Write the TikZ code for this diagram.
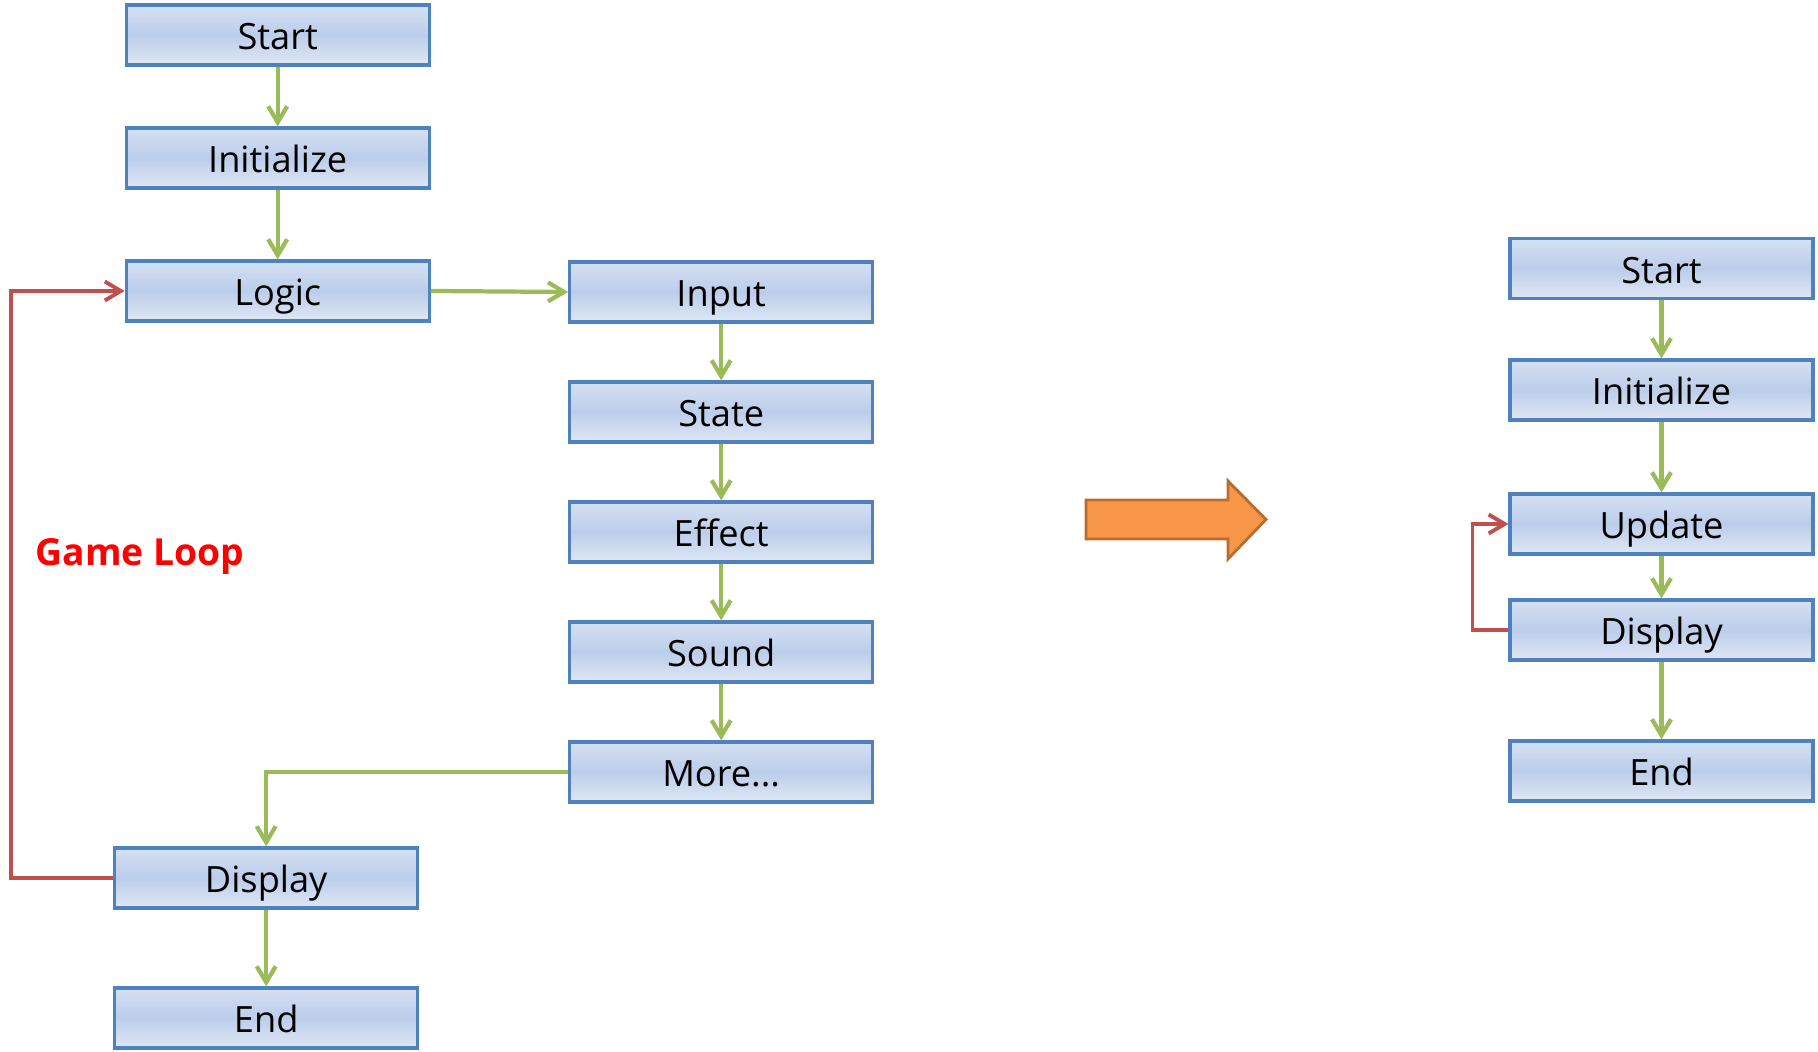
\documentclass[tikz,border=0pt]{standalone}
\usepackage{fontspec}
\setmainfont{Open Sans}
\usepackage{xcolor}
\usetikzlibrary{shapes,arrows,arrows.meta,positioning,calc}

\definecolor{boxline}{HTML}{4F81BD}
\definecolor{boxtop}{HTML}{D5E0F2}
\definecolor{boxmid}{HTML}{BCCDEA}
\definecolor{boxbot}{HTML}{DFE7F4}
\definecolor{flowgreen}{HTML}{9BBB59}
\definecolor{loopred}{HTML}{C0504D}
\definecolor{bigorange}{HTML}{F79646}
\definecolor{bigorangeline}{HTML}{B86D30}

\begin{document}
\begin{tikzpicture}[
    node distance=1.2cm,
    stage/.style={rectangle, draw=boxline, line width=0.9pt, top color=boxtop, bottom color=boxbot, middle color=boxmid, minimum width=3.03cm, minimum height=0.6cm, inner sep=0pt, text height=8.5pt, text depth=0pt, font=\fontsize{10.3}{12}\selectfont},
    flow/.style={-{Straight Barb[length=0.16cm, width=0.19cm]}, draw=flowgreen, line width=1.2pt},
    back/.style={-{Straight Barb[length=0.16cm, width=0.19cm]}, draw=loopred, line width=1.1pt},
    bigarrow/.style={fill=bigorange, draw=bigorangeline, line width=0.8pt}
]
\useasboundingbox (0,0) rectangle (18.18,-10.52);

% Game loop (left)
\node[stage] at (2.777,-0.35) (start) {Start};
\node[stage, below of=start, yshift=-0.03cm] (init) {Initialize};
\node[stage, below of=init, yshift=-0.13cm] (logic) {Logic};
\node[stage, right of=logic, xshift=3.235cm, yshift=-0.01cm] (input) {Input};
\node[stage, below of=input] (state) {State};
\node[stage, below of=state] (effect) {Effect};
\node[stage, below of=effect] (sound) {Sound};
\node[stage, below of=sound] (more) {More...};
\node[stage, below of=more, xshift=-4.55cm, yshift=0.14cm] (display) {Display};
\node[stage, below of=display, yshift=-0.20cm] (end) {End};

\node[text=red, font=\fontsize{10.6}{12}\selectfont\bfseries] at (1.40,-5.56) (looplabel) {Game Loop};

% Simplified loop (right)
\node[stage] at (16.615,-2.685) (rstart) {Start};
\node[stage, below of=rstart, yshift=-0.015cm] (rinit) {Initialize};
\node[stage, below of=rinit, yshift=-0.14cm] (rupdate) {Update};
\node[stage, below of=rupdate, yshift=0.14cm] (rdisplay) {Display};
\node[stage, below of=rdisplay, yshift=-0.21cm] (rend) {End};

% Connect left stages
\draw[flow] (start) -- (init);
\draw[flow] (init) -- (logic);
\draw[flow] (logic.east) -- (input.west);
\draw[flow] (input) -- (state);
\draw[flow] (state) -- (effect);
\draw[flow] (effect) -- (sound);
\draw[flow] (sound) -- (more);
\draw[flow] (more.west) -| (display.north);
\draw[flow] (display) -- (end);
\draw[back] (display.west) -- ++(-1.02,0) |- (logic.west);

% Connect right stages
\draw[flow] (rstart) -- (rinit);
\draw[flow] (rinit) -- (rupdate);
\draw[flow] (rupdate) -- (rdisplay);
\draw[flow] (rdisplay) -- (rend);
\draw[back] (rdisplay.west) -- ++(-0.36,0) |- (rupdate.west);

% Big arrow
\draw[bigarrow] (10.86,-5.00) -- (12.28,-5.00) -- (12.28,-4.81) -- (12.66,-5.195)
    -- (12.28,-5.59) -- (12.28,-5.39) -- (10.86,-5.39) -- cycle;

\end{tikzpicture}
\end{document}
